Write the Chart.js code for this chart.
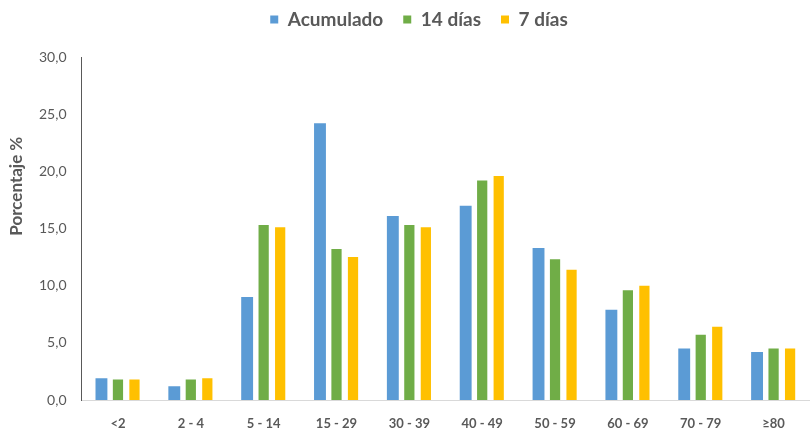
<!DOCTYPE html>
<html>
<head>
<meta charset="utf-8">
<script src="https://cdn.jsdelivr.net/npm/chart.js@4"></script>
<style>
  html, body { margin: 0; padding: 0; background: #fff; }
  #wrap { width: 810px; height: 430px; position: relative; }
</style>
</head>
<body>
<div id="wrap"><canvas id="chart"></canvas></div>
<script>
  // age groups and percentage per period
  var grupos = ['<2', '2 - 4', '5 - 14', '15 - 29', '30 - 39', '40 - 49', '50 - 59', '60 - 69', '70 - 79', '\u226580'];
  var acumulado = [1.9, 1.2, 9.0, 24.2, 16.1, 17.0, 13.3, 7.9, 4.5, 4.2];
  var dias14 = [1.8, 1.8, 15.3, 13.2, 15.3, 19.2, 12.3, 9.6, 5.7, 4.5];
  var dias7 = [1.8, 1.9, 15.1, 12.5, 15.1, 19.6, 11.4, 10.0, 6.4, 4.5];

  var gris = '#595959';
  var fuente = 'Lato, "Open Sans", sans-serif';
  var tituloY = 'Porcentaje %';

  function serie(label, data, color, bar) {
    return {
      label: label,
      data: data,
      backgroundColor: color,
      borderWidth: 0,
      categoryPercentage: 0.68,
      barPercentage: bar
    };
  }

  // extra room under the legend, and nudge it a little to the right
  var ajusteLeyenda = {
    id: 'ajusteLeyenda',
    beforeInit: function (chart) {
      var legend = chart.legend;
      var fit = legend.fit;
      var draw = legend.draw;
      legend.fit = function () {
        fit.apply(legend, arguments);
        legend.height += 18;
      };
      legend.draw = function () {
        var ctx = chart.ctx;
        ctx.save();
        ctx.translate(2, 0);
        draw.apply(legend, arguments);
        ctx.restore();
      };
    }
  };

  // vertical axis title, placed higher than the axis midpoint
  var tituloEje = {
    id: 'tituloEje',
    afterDraw: function (chart) {
      var ctx = chart.ctx;
      var y = chart.scales.y;
      ctx.save();
      ctx.translate(17, y.getPixelForValue(18.7));
      ctx.rotate(-Math.PI / 2);
      ctx.fillStyle = gris;
      ctx.font = 'bold 17px ' + fuente;
      ctx.textAlign = 'center';
      ctx.textBaseline = 'middle';
      ctx.fillText(tituloY, 0, 0);
      ctx.restore();
    }
  };

  new Chart(document.getElementById('chart'), {
    type: 'bar',
    data: {
      labels: grupos,
      datasets: [
        serie('Acumulado', acumulado, '#5b9bd5', 0.72),
        serie('14 días', dias14, '#70ad47', 0.62),
        serie('7 días', dias7, '#ffc000', 0.62)
      ]
    },
    plugins: [ajusteLeyenda, tituloEje],
    options: {
      responsive: true,
      maintainAspectRatio: false,
      animation: false,
      layout: { padding: { left: 24, right: 0, top: -10, bottom: 0 } },
      plugins: {
        tooltip: { enabled: false },
        legend: {
          position: 'top',
          labels: {
            color: gris,
            boxWidth: 8,
            boxHeight: 8,
            padding: 20,
            font: { family: fuente, size: 19, weight: 'bold' }
          }
        }
      },
      scales: {
        x: {
          grid: { display: false, drawTicks: false },
          border: { color: '#d9d9d9', width: 1 },
          ticks: {
            color: gris,
            padding: 16,
            font: { family: fuente, size: 13, weight: 'bold' }
          },
          afterFit: function (scale) { scale.height = 30; }
        },
        y: {
          min: 0,
          max: 30,
          grid: { display: false, drawTicks: false },
          border: { color: gris, width: 1 },
          ticks: {
            stepSize: 5,
            color: gris,
            padding: 15,
            font: { family: fuente, size: 14 },
            callback: function (v) { return v.toFixed(1).replace('.', ','); }
          }
        }
      }
    }
  });
</script>
</body>
</html>
